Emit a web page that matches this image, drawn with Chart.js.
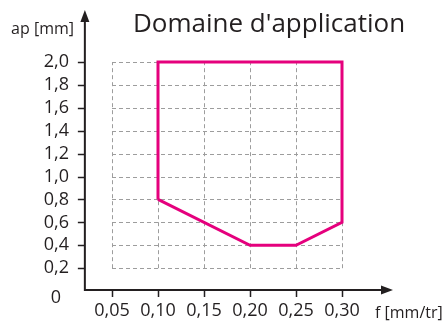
<!DOCTYPE html>
<html>
<head>
<meta charset="utf-8">
<script src="https://cdn.jsdelivr.net/npm/chart.js@4"></script>
<style>
  html, body { margin: 0; padding: 0; background: #fff; }
  #wrap { width: 446px; height: 322px; position: relative; }
</style>
</head>
<body>
<div id="wrap"><canvas id="c" width="446" height="322"></canvas></div>
<script>
// Operating range outline: feed f [mm/tr] vs depth of cut ap [mm]
const feedValues  = [0.10, 0.10, 0.30, 0.30, 0.25, 0.20, 0.10];
const depthValues = [0.8,  2.0,  2.0,  0.6,  0.4,  0.4,  0.8];

// Tick positions on both axes
const feedTicks  = [0.05, 0.10, 0.15, 0.20, 0.25, 0.30];
const depthTicks = [0.2, 0.4, 0.6, 0.8, 1.0, 1.2, 1.4, 1.6, 1.8, 2.0];

// Texts
const chartTitle = "Domaine d'application";
const feedTitle  = 'f [mm/tr]';
const depthTitle = 'ap [mm]';
const originLabel = '0';

// Where the drawn axes cross (value space)
const axisCrossFeed  = 0.0205;
const axisCrossDepth = 0.01;

const INK = '#231F20';
const GRID = '#9d9d9d';
const FONT = '"Open Sans", sans-serif';

// Dashed grid over the tick range
const dashedGrid = {
  id: 'dashedGrid',
  beforeDatasetsDraw(chart) {
    const { ctx } = chart;
    const xs = chart.scales.x, ys = chart.scales.y;
    const top = ys.getPixelForValue(depthTicks[depthTicks.length - 1]);
    const bottom = ys.getPixelForValue(depthTicks[0]);
    const left = xs.getPixelForValue(feedTicks[0]);
    const right = xs.getPixelForValue(feedTicks[feedTicks.length - 1]);
    ctx.save();
    ctx.strokeStyle = GRID;
    ctx.lineWidth = 1;
    ctx.setLineDash([4, 3]);
    feedTicks.forEach(v => {
      const px = Math.round(xs.getPixelForValue(v)) + 0.5;
      ctx.beginPath();
      ctx.moveTo(px, bottom);
      ctx.lineTo(px, top);
      ctx.stroke();
    });
    depthTicks.forEach(v => {
      const py = Math.round(ys.getPixelForValue(v)) + 0.5;
      ctx.beginPath();
      ctx.moveTo(left, py);
      ctx.lineTo(right, py);
      ctx.stroke();
    });
    ctx.restore();
  }
};

// Arrowed axes, tick marks, axis titles and the heading
const axesPlugin = {
  id: 'arrowAxes',
  afterDraw(chart) {
    const { ctx } = chart;
    const xs = chart.scales.x, ys = chart.scales.y;
    const ox = xs.getPixelForValue(axisCrossFeed);
    const oy = ys.getPixelForValue(axisCrossDepth);
    const xEnd = 393, yEnd = 10;
    ctx.save();
    ctx.strokeStyle = INK;
    ctx.fillStyle = INK;
    ctx.lineWidth = 2;
    ctx.beginPath();
    ctx.moveTo(ox, oy);
    ctx.lineTo(ox, yEnd + 8);
    ctx.moveTo(ox - 1, oy);
    ctx.lineTo(xEnd - 8, oy);
    ctx.stroke();
    // arrow heads
    ctx.beginPath();
    ctx.moveTo(ox, yEnd);
    ctx.lineTo(ox - 4.5, yEnd + 12);
    ctx.lineTo(ox + 4.5, yEnd + 12);
    ctx.closePath();
    ctx.fill();
    ctx.beginPath();
    ctx.moveTo(xEnd, oy);
    ctx.lineTo(xEnd - 12, oy - 4.5);
    ctx.lineTo(xEnd - 12, oy + 4.5);
    ctx.closePath();
    ctx.fill();
    // tick marks
    ctx.lineWidth = 1.5;
    ctx.beginPath();
    depthTicks.forEach(v => {
      const py = Math.round(ys.getPixelForValue(v)) + 0.5;
      ctx.moveTo(ox - 7, py);
      ctx.lineTo(ox, py);
    });
    feedTicks.forEach(v => {
      const px = Math.round(xs.getPixelForValue(v)) + 0.5;
      ctx.moveTo(px, oy);
      ctx.lineTo(px, oy + 7);
    });
    ctx.stroke();
    // texts
    ctx.textBaseline = 'middle';
    ctx.font = '16px ' + FONT;
    ctx.textAlign = 'left';
    ctx.fillText(feedTitle, 375, 313);
    ctx.textAlign = 'right';
    ctx.fillText(depthTitle, 74, 29);
    ctx.textAlign = 'center';
    ctx.font = '18px ' + FONT;
    ctx.fillText(originLabel, 56, 298);
    ctx.font = '26px ' + FONT;
    ctx.fillText(chartTitle, 269, 25);
    ctx.restore();
  }
};

new Chart(document.getElementById('c'), {
  type: 'scatter',
  data: {
    datasets: [{
      data: feedValues.map((f, i) => ({ x: f, y: depthValues[i] })),
      showLine: true,
      borderColor: '#E5007D',
      borderWidth: 3,
      borderJoinStyle: 'miter',
      pointRadius: 0,
      fill: false,
      clip: false,
      tension: 0
    }]
  },
  options: {
    responsive: false,
    animation: false,
    layout: { padding: { left: 0, top: 62, right: 104, bottom: 0 } },
    plugins: { legend: { display: false }, tooltip: { enabled: false }, title: { display: false } },
    scales: {
      x: {
        type: 'linear',
        min: 0.05, max: 0.30,
        afterBuildTicks: s => { s.ticks = feedTicks.map(v => ({ value: v })); },
        afterFit: s => { s.height = 52; },
        grid: { display: false, drawTicks: false },
        border: { display: false },
        ticks: {
          padding: 32,
          color: INK,
          font: { family: FONT, size: 18 },
          callback: v => v.toFixed(2).replace('.', ','),
          maxRotation: 0
        }
      },
      y: {
        type: 'linear',
        min: 0.2, max: 2.0,
        afterBuildTicks: s => { s.ticks = depthTicks.map(v => ({ value: v })); },
        afterFit: s => { s.width = 112; },
        grid: { display: false, drawTicks: false },
        border: { display: false },
        ticks: {
          padding: 43,
          color: INK,
          font: { family: FONT, size: 18 },
          callback: v => v.toFixed(1).replace('.', ',')
        }
      }
    }
  },
  plugins: [dashedGrid, axesPlugin]
});
</script>
</body>
</html>
